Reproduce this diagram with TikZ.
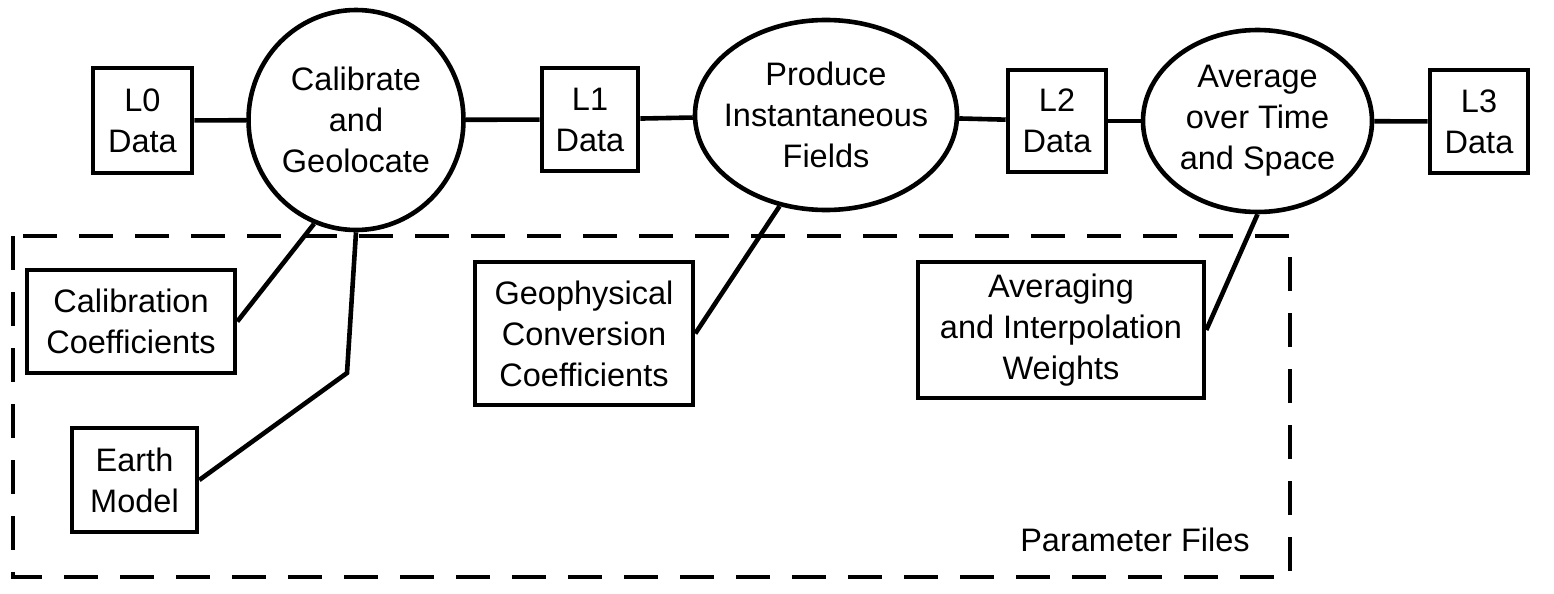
\documentclass[tikz,border=0pt]{standalone}
\usepackage{fontspec}
\setmainfont{Liberation Sans}
\usetikzlibrary{shapes.geometric}
\begin{document}
\begin{tikzpicture}[x=0.5pt,y=-0.5pt,
  lw/.style={line width=2.3pt},
  txt/.style={font=\fontsize{16.25}{20.5}\selectfont,align=center},
  databox/.style={draw,lw,rectangle,inner sep=0pt,txt},
  proc/.style={draw,lw,ellipse,inner sep=0pt},
  conn/.style={lw},
  group/.style={draw,line width=2.3pt,dash pattern=on 17pt off 11pt}]
\useasboundingbox (0,0) rectangle (1554,594);
% frame
\draw[group] (13,236) rectangle (1290,577);
\node[txt,anchor=center] (pf) at (1135,540) {Parameter Files};
% data boxes
\node[databox,minimum width=49.5pt,minimum height=52.5pt] (L0) at (142.5,120.5) {L0\\Data};
\node[databox,minimum width=48pt,minimum height=51.5pt] (L1) at (590,119.5) {L1\\Data};
\node[databox,minimum width=49pt,minimum height=51pt] (L2) at (1057,121) {L2\\Data};
\node[databox,minimum width=49pt,minimum height=51.5pt] (L3) at (1479,121.5) {L3\\Data};
% processes
\node[proc,minimum width=107.5pt,minimum height=110pt,
  label={[txt]center:Calibrate\\and\\Geolocate}] (cal) at (356,120) {};
\node[proc,minimum width=131pt,minimum height=95pt,
  label={[txt]center:Produce\\Instantaneous\\Fields}] (prod) at (826,115) {};
\node[proc,minimum width=114.5pt,minimum height=91pt,
  label={[txt]center:Average\\over Time\\and Space}] (avg) at (1257.5,121) {};
% parameter boxes
\node[databox,minimum width=104pt,minimum height=51.5pt] (calib) at (131,321.5) {Calibration\\Coefficients};
\node[databox,minimum width=62.5pt,minimum height=52pt] (earth) at (134.5,480) {Earth\\Model};
\node[databox,minimum width=109pt,minimum height=71.5pt] (geo) at (584,333.5) {Geophysical\\Conversion\\Coefficients};
\node[databox,minimum width=143pt,minimum height=68pt] (avgw) at (1061,330) {Averaging\\and Interpolation\\Weights};
% connectors
\draw[conn] (L0) -- (cal);
\draw[conn] (cal) -- (L1);
\draw[conn] (L1) -- (prod);
\draw[conn] (prod) -- (L2);
\draw[conn] (L2) -- (avg);
\draw[conn] (avg) -- (L3);
\draw[conn] (calib.east) -- (cal.248);
\coordinate (ebend) at (347,373);
\draw[conn] (earth.east) -- (ebend) -- (cal.south);
\draw[conn] (geo.east) -- (prod.243);
\draw[conn] (avgw.east) -- (avg.south);
\end{tikzpicture}
\end{document}
